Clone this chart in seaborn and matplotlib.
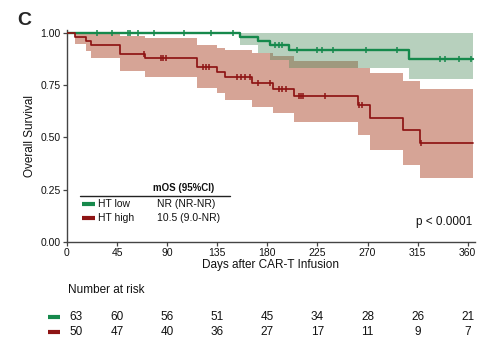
import numpy as np
import pandas as pd
import matplotlib
matplotlib.use("Agg")
import matplotlib.pyplot as plt
import matplotlib.transforms as mtransforms
import seaborn as sns

# ---- data -------------------------------------------------------------
groups = ["HT low", "HT high"]
mos_labels = ["NR (NR-NR)", "10.5 (9.0-NR)"]

# Kaplan-Meier steps: day of each event and survival after it, with 95% CI
low_days = [0, 155, 172, 182, 199, 307]
low_surv = [1.0, 0.981, 0.960, 0.942, 0.917, 0.875]
low_lower = [1.0, 0.94, 0.905, 0.87, 0.83, 0.78]
low_upper = [1.0, 1.0, 1.0, 1.0, 1.0, 1.0]
low_censor = [27, 40, 55, 57, 64, 78, 105, 129, 149, 187, 190, 193, 207,
              225, 229, 239, 269, 296, 335, 340, 352, 363]

high_days = [0, 7, 17, 22, 48, 70, 117, 135, 142, 166, 185, 204, 261, 272, 302, 317]
high_surv = [1.0, 0.98, 0.96, 0.94, 0.90, 0.88, 0.838, 0.815, 0.79, 0.762,
             0.733, 0.70, 0.655, 0.591, 0.533, 0.473]
high_lower = [1.0, 0.945, 0.915, 0.88, 0.82, 0.79, 0.735, 0.71, 0.68, 0.647,
              0.616, 0.575, 0.511, 0.44, 0.367, 0.305]
high_upper = [1.0, 1.0, 1.0, 1.0, 0.985, 0.975, 0.94, 0.93, 0.918, 0.903,
              0.89, 0.865, 0.832, 0.807, 0.77, 0.733]
high_censor = [69, 84, 86, 89, 122, 125, 128, 153, 156, 160, 164, 172, 182,
               190, 193, 197, 208, 210, 212, 232, 262, 265, 318]

followup_end = 365

risk_days = [0, 45, 90, 135, 180, 225, 270, 315, 360]
low_at_risk = [63, 60, 56, 51, 45, 34, 28, 26, 21]
high_at_risk = [50, 47, 40, 36, 27, 17, 11, 9, 7]

x_ticks = [0, 45, 90, 135, 180, 225, 270, 315, 360]
y_ticks = [0.00, 0.25, 0.50, 0.75, 1.00]

# ---- style ------------------------------------------------------------
sns.set_style("ticks")
plt.rcParams["font.family"] = ["Liberation Sans", "DejaVu Sans"]
plt.rcParams["axes.edgecolor"] = "#444444"
plt.rcParams["xtick.color"] = "#444444"
plt.rcParams["ytick.color"] = "#444444"

green_line = "#16894c"
green_fill = "#4d8a5c"
red_line = "#8e1414"
red_fill = "#a63716"

fig = plt.figure(figsize=(4.79, 3.46), dpi=100)
ax = fig.add_axes([67 / 479, 1 - 241.7 / 346, 408 / 479, 211.7 / 346])


def extend(days, values):
    return list(days) + [followup_end], list(values) + [values[-1]]


def level_at(days, surv, t):
    idx = np.searchsorted(days, t, side="right") - 1
    return np.asarray(surv)[idx]


curves = [
    (low_days, low_surv, low_lower, low_upper, low_censor, green_line, green_fill, 0.40, 1.7),
    (high_days, high_surv, high_lower, high_upper, high_censor, red_line, red_fill, 0.45, 1.25),
]

# confidence bands
for days, surv, lo, hi, cens, lc, fc, alpha, lw in curves[::-1]:
    d, l = extend(days, lo)
    _, h = extend(days, hi)
    ax.fill_between(d, l, h, step="post", color=fc, alpha=alpha, linewidth=0, zorder=1)

# survival curves and censor ticks
for name, (days, surv, lo, hi, cens, lc, fc, alpha, lw) in zip(groups, curves):
    d, s = extend(days, surv)
    df = pd.DataFrame({"day": d, "surv": s})
    sns.lineplot(data=df, x="day", y="surv", ax=ax, color=lc, linewidth=lw,
                 drawstyle="steps-post", zorder=3)
    cdf = pd.DataFrame({"day": cens, "surv": level_at(days, surv, cens)})
    sns.scatterplot(data=cdf, x="day", y="surv", ax=ax, marker="|", s=24,
                    color=lc, linewidth=1.1, zorder=4)

ax.set_xlim(0, 366.5)
ax.set_ylim(0, 1.014)
ax.set_xticks(x_ticks)
ax.set_yticks(y_ticks)
ax.set_yticklabels([f"{v:.2f}" for v in y_ticks])
ax.tick_params(axis="both", labelsize=7.5, length=3, width=0.9, pad=1.5,
               labelcolor="#111111")
for side in ("left", "bottom"):
    ax.spines[side].set_linewidth(1.0)
sns.despine(ax=ax)

ax.set_xlabel("Days after CAR-T Infusion", fontsize=8.5, labelpad=0.5, color="#111111")
ax.set_ylabel("Overall Survival", fontsize=8.5, labelpad=3, color="#111111")

# panel letter
fig.text(17 / 479, 1 - 25 / 346, "C", fontsize=14, fontweight="bold", ha="left",
         va="baseline")

# median OS table inside the plot
ax.text(77, 0.259, "mOS (95%CI)", fontsize=7, fontweight="bold", ha="left",
        va="center", color="#111111")
ax.plot([12, 146], [0.217, 0.217], color="#222222", lw=1.0, zorder=5)
row_y = [0.181, 0.114]
for name, label, col, yy in zip(groups, mos_labels, [green_line, red_line], row_y):
    ax.plot([13.5, 25], [yy, yy], color=col, lw=3, solid_capstyle="butt", zorder=5)
    ax.text(28, yy, name, fontsize=7.5, ha="left", va="center", color="#111111")
    ax.text(81, yy, label, fontsize=7.5, ha="left", va="center", color="#111111")

ax.text(364, 0.096, "p < 0.0001", fontsize=8.5, ha="right", va="center",
        color="#111111")

# number at risk table below the plot
blend = mtransforms.blended_transform_factory(ax.transData, fig.transFigure)
fig.text(68 / 479, 1 - 290 / 346, "Number at risk", fontsize=8.5, ha="left",
         va="center", color="#111111")
table_y = [1 - 316.7 / 346, 1 - 331.7 / 346]
for counts, col, yy in zip([low_at_risk, high_at_risk], [green_line, red_line], table_y):
    ax.plot([-17.5, -6.5], [yy, yy], transform=blend, color=col, lw=3,
            solid_capstyle="butt", clip_on=False)
    for k, (day, n) in enumerate(zip(risk_days, counts)):
        tr = blend
        if k == 0:
            tr = mtransforms.offset_copy(blend, fig=fig, x=9, y=0, units="dots")
        ax.text(day, yy, str(n), transform=tr, fontsize=8.5, ha="center",
                va="center", color="#111111")

fig.savefig("out.png", dpi=100)
